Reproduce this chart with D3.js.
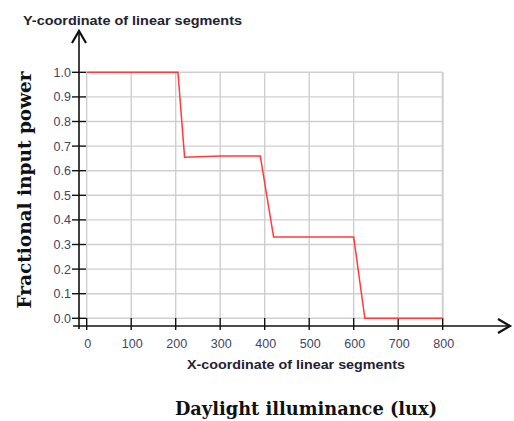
<!DOCTYPE html>
<html><head><meta charset="utf-8">
<script src="https://cdn.jsdelivr.net/npm/d3@7"></script>
<style>body{margin:0;background:#fff}svg{display:block}</style>
</head><body>
<svg id="c" width="514" height="421"></svg>
<script>
const xValues = [0, 205, 220, 300, 390, 420, 600, 625, 800];
const yValues = [1, 1, 0.655, 0.66, 0.66, 0.33, 0.33, 0, 0];
const xTicks = [0, 100, 200, 300, 400, 500, 600, 700, 800];
const yTicks = [0, 0.1, 0.2, 0.3, 0.4, 0.5, 0.6, 0.7, 0.8, 0.9, 1.0];
const titleTop = "Y-coordinate of linear segments";
const titleBottom = "X-coordinate of linear segments";
const yLabel = "Fractional input power";
const xLabel = "Daylight illuminance (lux)";

const svg = d3.select("#c");
const x = d3.scaleLinear().domain([0, 800]).range([86.7, 442.7]);
const y = d3.scaleLinear().domain([0, 1]).range([318.3, 72.3]);
const grid = "#cfcfcf", tickCol = "#3e4660";

// grid
svg.append("g").selectAll("line").data(xTicks).join("line")
  .attr("x1", d => x(d)).attr("x2", d => x(d)).attr("y1", y(1)).attr("y2", y(0))
  .attr("stroke", grid).attr("stroke-width", d => d === 800 ? 2 : 1.4);
svg.append("g").selectAll("line").data(yTicks).join("line")
  .attr("x1", x(0)).attr("x2", x(800)).attr("y1", d => y(d)).attr("y2", d => y(d))
  .attr("stroke", grid).attr("stroke-width", 1.4);

// axis lines
const axisX = 79, axisY = 326;
svg.append("line").attr("x1", axisX).attr("x2", axisX).attr("y1", 31).attr("y2", 329)
  .attr("stroke", "#111").attr("stroke-width", 1.6);
svg.append("path").attr("d", `M${axisX-7},${43} L${axisX},${31} L${axisX+7},${43}`)
  .attr("fill", "none").attr("stroke", "#111").attr("stroke-width", 2.2);
svg.append("line").attr("x1", 73).attr("x2", 510).attr("y1", axisY).attr("y2", axisY)
  .attr("stroke", "#111").attr("stroke-width", 1.6);
svg.append("path").attr("d", `M${498},${axisY-7} L${510},${axisY} L${498},${axisY+7}`)
  .attr("fill", "none").attr("stroke", "#111").attr("stroke-width", 2.2);

// ticks
svg.append("g").selectAll("line").data(yTicks).join("line")
  .attr("x1", 72).attr("x2", 86).attr("y1", d => y(d)).attr("y2", d => y(d))
  .attr("stroke", "#111").attr("stroke-width", 1.4);
svg.append("g").selectAll("line").data(xTicks).join("line")
  .attr("x1", d => x(d)).attr("x2", d => x(d)).attr("y1", 318).attr("y2", 330)
  .attr("stroke", "#111").attr("stroke-width", 1.4);

// tick labels
svg.append("g").selectAll("text").data(yTicks).join("text")
  .attr("x", 71).attr("y", d => y(d) + 4.5).attr("text-anchor", "end")
  .attr("font-family", "Liberation Sans, Arial, sans-serif").attr("font-size", 12.5)
  .attr("fill", tickCol).text(d => d3.format(".1f")(d));
svg.append("g").selectAll("text").data(xTicks).join("text")
  .attr("x", d => x(d) + 1).attr("y", 348).attr("text-anchor", "middle")
  .attr("font-family", "Liberation Sans, Arial, sans-serif").attr("font-size", 12.5)
  .attr("fill", tickCol).text(d => d);

// line
const line = d3.line().x((d, i) => x(xValues[i])).y((d, i) => y(yValues[i]));
svg.append("path").datum(yValues).attr("d", line)
  .attr("fill", "none").attr("stroke", "#ff3b3b").attr("stroke-width", 1.5);

// titles
svg.append("text").attr("x", 23).attr("y", 24.5).attr("textLength", 219).attr("lengthAdjust", "spacingAndGlyphs")
  .attr("font-family", "Liberation Sans, Arial, sans-serif").attr("font-weight", "bold")
  .attr("font-size", 13.5).attr("fill", "#222233").text(titleTop);
svg.append("text").attr("x", 187).attr("y", 369).attr("textLength", 218).attr("lengthAdjust", "spacingAndGlyphs")
  .attr("font-family", "Liberation Sans, Arial, sans-serif").attr("font-weight", "bold")
  .attr("font-size", 13.5).attr("fill", "#222233").text(titleBottom);
svg.append("text").attr("transform", "translate(31,190) rotate(-90)").attr("text-anchor", "middle")
  .attr("font-family", "DejaVu Serif, serif").attr("font-weight", "bold")
  .attr("font-size", 18.5).attr("fill", "#111").text(yLabel);
svg.append("text").attr("x", 306).attr("y", 415).attr("text-anchor", "middle")
  .attr("font-family", "DejaVu Serif, serif").attr("font-weight", "bold")
  .attr("font-size", 17.8).attr("fill", "#111").text(xLabel);
</script>
</body></html>
